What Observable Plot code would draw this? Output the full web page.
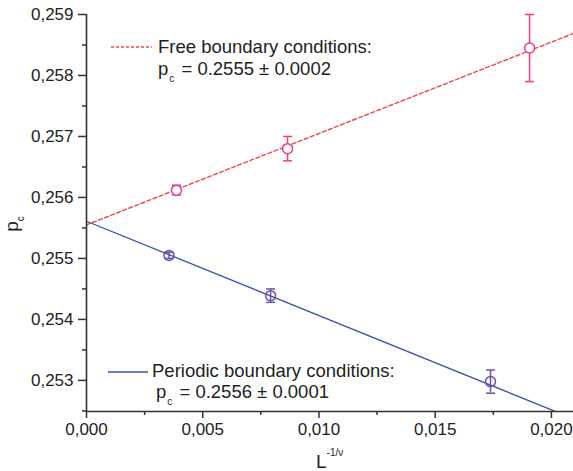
<!DOCTYPE html>
<html>
<head>
<meta charset="utf-8">
<script src="https://cdn.jsdelivr.net/npm/d3@7"></script>
<script src="https://cdn.jsdelivr.net/npm/@observablehq/plot@0.6"></script>
<style>
  html, body { margin: 0; padding: 0; background: #fff; }
  #chart svg { display: block; }
</style>
</head>
<body>
<div id="chart"></div>
<script>
// ---- data ----
const freeX = [0.00387, 0.00865, 0.01906];
const freeY = [0.25612, 0.25680, 0.25845];
const freeErr = [0.00008, 0.00020, 0.00055];

const perX = [0.00355, 0.00792, 0.01738];
const perY = [0.25505, 0.25439, 0.25298];
const perErr = [0.00005, 0.00011, 0.00019];

const fitX = [0, 0.02095];
const fitFree = [0.25555, 0.25869];
const fitPer = [0.25561, 0.25237];

const xTicks = [0, 0.005, 0.010, 0.015, 0.020];
const xMinor = [0.0025, 0.0075, 0.0125, 0.0175];
const yTicks = [0.253, 0.254, 0.255, 0.256, 0.257, 0.258, 0.259];
const yMinor = [0.2525, 0.2535, 0.2545, 0.2555, 0.2565, 0.2575, 0.2585];

const xDomain = [0, 0.02095];
const yDomain = [0.25249, 0.259];

const freeLabel = "Free boundary conditions:";
const freeValue = " = 0.2555 ± 0.0002";
const perLabel = "Periodic boundary conditions:";
const perValue = " = 0.2556 ± 0.0001";

// ---- build tables ----
const free = freeX.map((x, i) => ({x, y: freeY[i], lo: freeY[i] - freeErr[i], hi: freeY[i] + freeErr[i]}));
const per = perX.map((x, i) => ({x, y: perY[i], lo: perY[i] - perErr[i], hi: perY[i] + perErr[i]}));
const fitF = fitX.map((x, i) => ({x, y: fitFree[i]}));
const fitP = fitX.map((x, i) => ({x, y: fitPer[i]}));
const caps = (rows) => rows.flatMap(d => [{x: d.x, y: d.lo}, {x: d.x, y: d.hi}]);

const capSymbol = {draw(ctx) { ctx.moveTo(-4.5, 0); ctx.lineTo(4.5, 0); }};
const fmt = (d) => d3.format(".3f")(d).replace(".", ",");

const FREE_PT = "#ec3a8c";
const FREE_LN = "#f04848";
const PER_PT = "#6a52a8";
const PER_LN = "#3b50aa";
const AX = "#333";

const svg = Plot.plot({
  width: 573,
  height: 471,
  marginLeft: 86,
  marginRight: 0,
  marginTop: 14,
  marginBottom: 60,
  style: {fontFamily: "'Liberation Sans', Arial, sans-serif", fontSize: "17px", color: "#222", background: "#fff"},
  x: {domain: xDomain},
  y: {domain: yDomain},
  marks: [
    Plot.line(fitF, {x: "x", y: "y", stroke: FREE_LN, strokeWidth: 1.4, strokeDasharray: "4,2.5", clip: true}),
    Plot.line(fitP, {x: "x", y: "y", stroke: PER_LN, strokeWidth: 1.3, clip: true}),
    Plot.ruleX(free, {x: "x", y1: "lo", y2: "hi", stroke: FREE_PT, strokeWidth: 1.5}),
    Plot.dot(caps(free), {x: "x", y: "y", symbol: capSymbol, stroke: FREE_PT, strokeWidth: 1.5}),
    Plot.dot(free, {x: "x", y: "y", r: 5, stroke: FREE_PT, fill: "#fff", strokeWidth: 1.5}),
    Plot.ruleX(per, {x: "x", y1: "lo", y2: "hi", stroke: PER_PT, strokeWidth: 1.5}),
    Plot.dot(caps(per), {x: "x", y: "y", symbol: capSymbol, stroke: PER_PT, strokeWidth: 1.5}),
    Plot.dot(per, {x: "x", y: "y", r: 5, stroke: PER_PT, fill: "none", strokeWidth: 1.5}),
    Plot.ruleX([xDomain[0]], {stroke: AX, strokeWidth: 1.6}),
    Plot.ruleY([yDomain[0]], {stroke: AX, strokeWidth: 1.6}),
    Plot.axisY({ticks: yTicks, tickSize: 8, tickPadding: 5, tickFormat: fmt, label: null, stroke: AX, strokeWidth: 1.5, fontSize: 17}),
    Plot.axisY({ticks: yMinor, tickSize: 4, text: null, label: null, stroke: AX, strokeWidth: 1.5}),
    Plot.axisX({ticks: xTicks, tickSize: 7, tickPadding: 4, tickFormat: fmt, label: null, stroke: AX, strokeWidth: 1.5, fontSize: 17}),
    Plot.axisX({ticks: xMinor, tickSize: 4, text: null, label: null, stroke: AX, strokeWidth: 1.5})
  ]
});

// ---- legend & axis labels (text with sub/superscripts) ----
const s = d3.select(svg);
const g = s.append("g")
  .attr("font-family", "'Liberation Sans', Arial, sans-serif")
  .attr("fill", "#222")
  .attr("text-anchor", "start");

// Free legend
g.append("line").attr("x1", 111).attr("x2", 152).attr("y1", 47).attr("y2", 47)
  .attr("stroke", FREE_LN).attr("stroke-width", 1.4).attr("stroke-dasharray", "3,2");
g.append("text").attr("x", 158).attr("y", 53).attr("font-size", 18.5).text(freeLabel);
const t1 = g.append("text").attr("x", 158).attr("y", 75).attr("font-size", 18.5);
t1.append("tspan").text("p");
t1.append("tspan").attr("font-size", 10).attr("dy", 7).attr("dx", 1).text("c");
t1.append("tspan").attr("dy", -7).attr("dx", 2).text(freeValue);

// Periodic legend
g.append("line").attr("x1", 108).attr("x2", 148).attr("y1", 372).attr("y2", 372)
  .attr("stroke", PER_LN).attr("stroke-width", 1.3);
g.append("text").attr("x", 152).attr("y", 377).attr("font-size", 18.5).text(perLabel);
const t2 = g.append("text").attr("x", 156).attr("y", 398).attr("font-size", 18.5);
t2.append("tspan").text("p");
t2.append("tspan").attr("font-size", 10).attr("dy", 7).attr("dx", 1).text("c");
t2.append("tspan").attr("dy", -7).attr("dx", 2).text(perValue);

// x label
const xl = g.append("text").attr("x", 316).attr("y", 468).attr("font-size", 19);
xl.append("tspan").text("L");
xl.append("tspan").attr("font-size", 10).attr("dy", -12).text("-1/ν");

// y label
const yl = g.append("text").attr("transform", "translate(18,224) rotate(-90)").attr("text-anchor", "middle").attr("font-size", 19);
yl.append("tspan").text("p");
yl.append("tspan").attr("font-size", 10).attr("dy", 6).text("c");

document.getElementById("chart").appendChild(svg);
</script>
</body>
</html>
